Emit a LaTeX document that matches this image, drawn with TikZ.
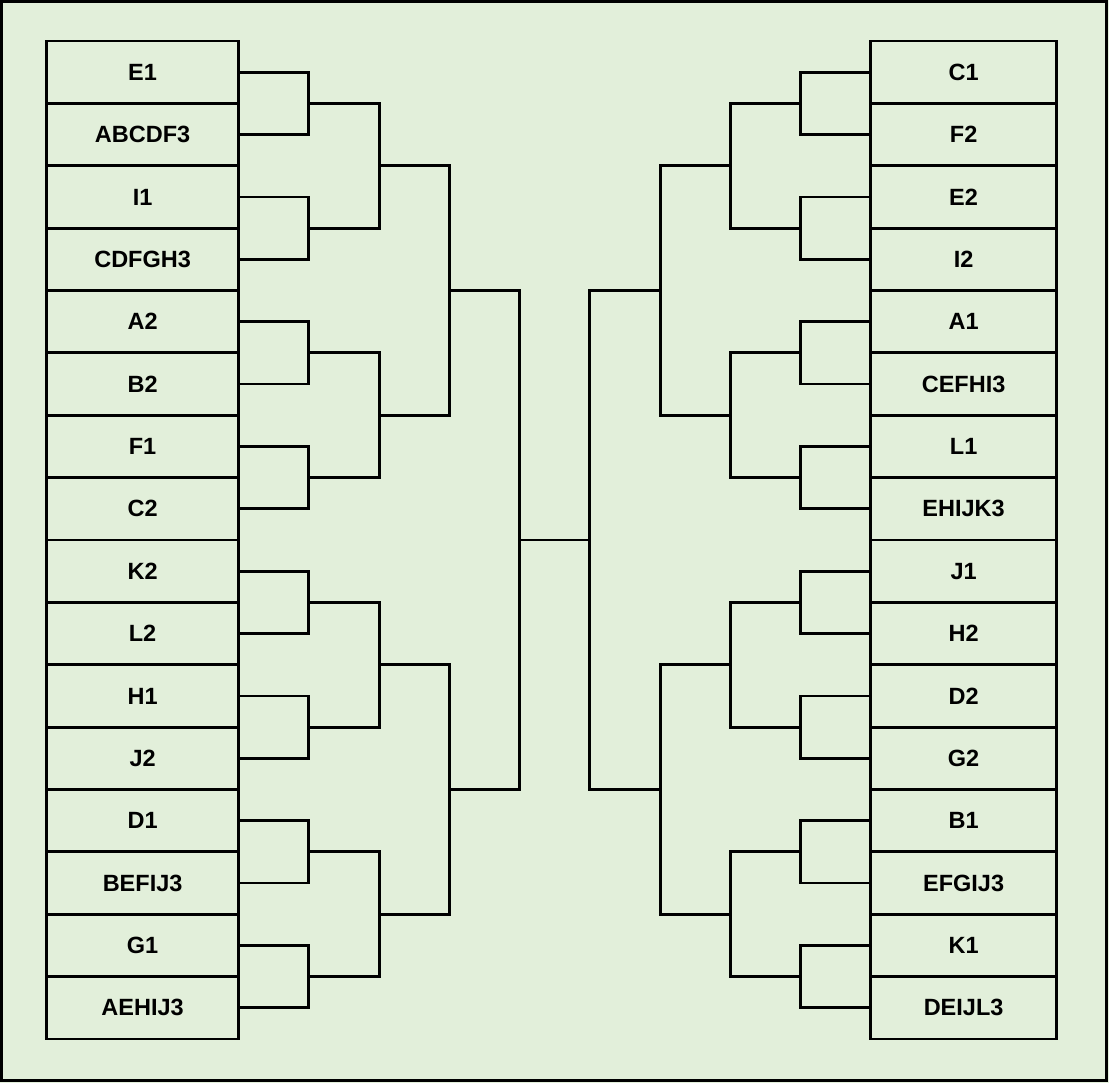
\documentclass[tikz,border=0pt]{standalone}
\usepackage{fontspec}
\setmainfont{Liberation Sans}[BoldFont={Liberation Sans Bold}]
\definecolor{bgc}{HTML}{E2EFDA}
\tikzset{
  box/.style={draw=black, line width=2.8pt, minimum width=191.5pt, minimum height=62.375pt, inner sep=0pt, font=\fontsize{23.5}{27}\selectfont\bfseries, text=black},
  link/.style={draw=black, line width=2.8pt},
}
\begin{document}
\begin{tikzpicture}[x=1pt,y=-1pt]
\fill[bgc] (0,0) rectangle (1109,1083);
\useasboundingbox (0,0) rectangle (1109,1083);
\draw[line width=2.6pt] (1.3,1.3) rectangle (1106.5,1080.7);
% left boxes
\foreach \t [count=\i] in {E1,ABCDF3,I1,CDFGH3,A2,B2,F1,C2,K2,L2,H1,J2,D1,BEFIJ3,G1,AEHIJ3}{
  \node[box] (L\i) at (142.6, {41+62.375*(\i-0.5)}) {\t};
}
\foreach \t [count=\i] in {C1,F2,E2,I2,A1,CEFHI3,L1,EHIJK3,J1,H2,D2,G2,B1,EFGIJ3,K1,DEIJL3}{
  \node[box, minimum width=185.8pt] (R\i) at (963.6, {41+62.375*(\i-0.5)}) {\t};
}
% round 1
\foreach \k in {1,...,8}{
  \pgfmathtruncatemacro{\a}{2*\k-1}
  \pgfmathtruncatemacro{\b}{2*\k}
  \coordinate (la\k) at (308.5, {41+62.375*(2*\k-1)});
  \coordinate (ra\k) at (800.3, {41+62.375*(2*\k-1)});
  \draw[link] (L\a.east) -| (la\k) |- (L\b.east);
  \draw[link] (R\a.west) -| (ra\k) |- (R\b.west);
}
% round 2
\foreach \k in {1,...,4}{
  \pgfmathtruncatemacro{\a}{2*\k-1}
  \pgfmathtruncatemacro{\b}{2*\k}
  \coordinate (lb\k) at (379.3, {41+62.375*(4*\k-2)});
  \coordinate (rb\k) at (730.8, {41+62.375*(4*\k-2)});
  \draw[link] (la\a) -| (lb\k) |- (la\b);
  \draw[link] (ra\a) -| (rb\k) |- (ra\b);
}
% round 3
\foreach \k in {1,2}{
  \pgfmathtruncatemacro{\a}{2*\k-1}
  \pgfmathtruncatemacro{\b}{2*\k}
  \coordinate (lc\k) at (449.3, {41+62.375*(8*\k-4)});
  \coordinate (rc\k) at (660.3, {41+62.375*(8*\k-4)});
  \draw[link] (lb\a) -| (lc\k) |- (lb\b);
  \draw[link] (rb\a) -| (rc\k) |- (rb\b);
}
% round 4
\coordinate (ld) at (519.2, {41+62.375*8});
\coordinate (rd) at (589.5, {41+62.375*8});
\draw[link] (lc1) -| (ld) |- (lc2);
\draw[link] (rc1) -| (rd) |- (rc2);
\draw[link] (ld) -- (rd);
\end{tikzpicture}
\end{document}
